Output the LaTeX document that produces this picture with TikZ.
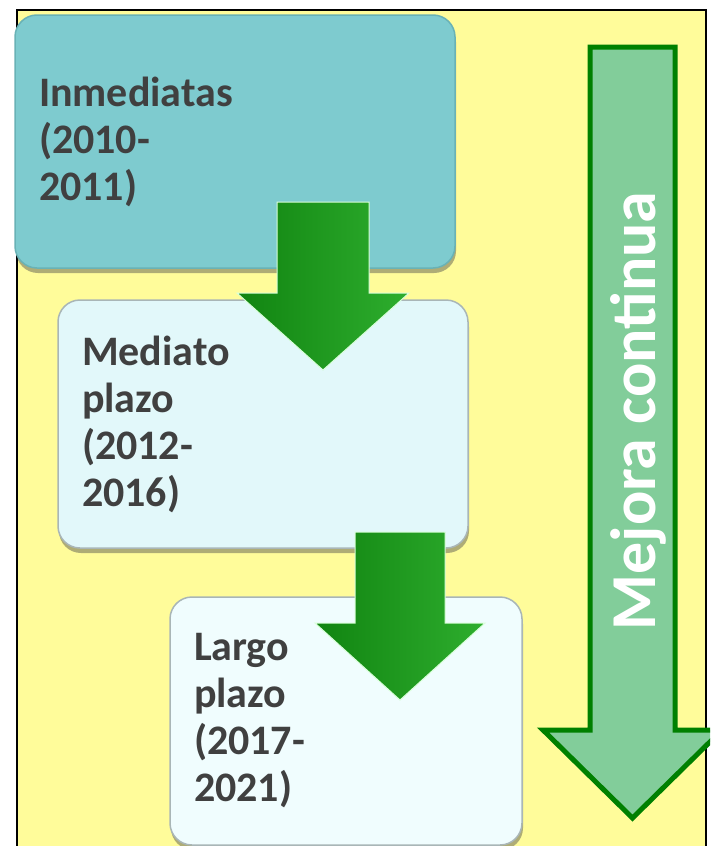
\documentclass[tikz,border=0pt]{standalone}
\usepackage{fontspec}
\setmainfont{Carlito}
\usepackage{xcolor}
\usetikzlibrary{shadows, positioning}

\definecolor{paper}{HTML}{FFFC9A}
\definecolor{tealbox}{HTML}{7ECBCF}
\definecolor{tealrim}{HTML}{69B2B6}
\definecolor{midbox}{HTML}{E2F8FA}
\definecolor{lastbox}{HTML}{F0FDFE}
\definecolor{greyrim}{HTML}{A9B6B7}
\definecolor{textgrey}{HTML}{404040}
\definecolor{arrowdark}{HTML}{118411}
\definecolor{arrowlight}{HTML}{2EAE2E}
\definecolor{mintfill}{HTML}{82CD9A}
\definecolor{mintline}{HTML}{008000}

\tikzset{
  stagebox/.style={rounded corners=22pt, inner xsep=24pt, align=left,
    font=\bfseries\fontsize{42}{47}\selectfont, text=textgrey, line width=1.5pt,
    drop shadow={shadow xshift=1pt, shadow yshift=-5pt, opacity=.45, fill=black!70}},
  steparrow/.style={left color=arrowdark, right color=arrowlight, draw=green!15!white, line width=1pt},
  bigarrow/.style={fill=mintfill, draw=mintline, line width=5pt},
  bigtext/.style={font=\bfseries\fontsize{64}{70}\selectfont, text=white, inner sep=0pt}
}

\begin{document}
\begin{tikzpicture}[x=1pt, y=-1pt]
  \useasboundingbox (0,0) rectangle (710,846);
  \clip (0,0) rectangle (710,846);
  \fill[white] (0,0) rectangle (710,846);

  % background panel
  \draw[line width=2pt, fill=paper] (17,10) rectangle (706,880);

  % continuous improvement arrow
  \draw[bigarrow]
    (590,47) -- (675,47) -- (675,730) -- (722,730) -- (632.5,818) -- (543,730) -- (590,730) -- cycle;
  \node[bigtext, rotate=90, anchor=base] (mejora) at (655,411) {Mejora continua};

  % stages
  \node[stagebox, fill=tealbox, draw=tealrim, minimum width=440pt, minimum height=253pt,
    text width=392pt] (inmediatas) at (235,141.5) {Inmediatas\\(2010-\\2011)};
  \node[stagebox, fill=midbox, draw=greyrim, minimum width=410pt, minimum height=248pt,
    text width=362pt] (mediato) at (263,424) {Mediato\\plazo\\(2012-\\2016)};
  \node[stagebox, fill=lastbox, draw=greyrim, minimum width=352pt, minimum height=248pt,
    text width=304pt] (largo) at (346,721) {Largo\\plazo\\(2017-\\2021)};

  % steps between stages
  \shade[steparrow]
    (277,202) -- (369,202) -- (369,293) -- (409,293) -- (323,370) -- (237,293) -- (277,293) -- cycle;
  \shade[steparrow]
    (355,532) -- (445,532) -- (445,623) -- (485,623) -- (400,700) -- (315,623) -- (355,623) -- cycle;
\end{tikzpicture}
\end{document}
